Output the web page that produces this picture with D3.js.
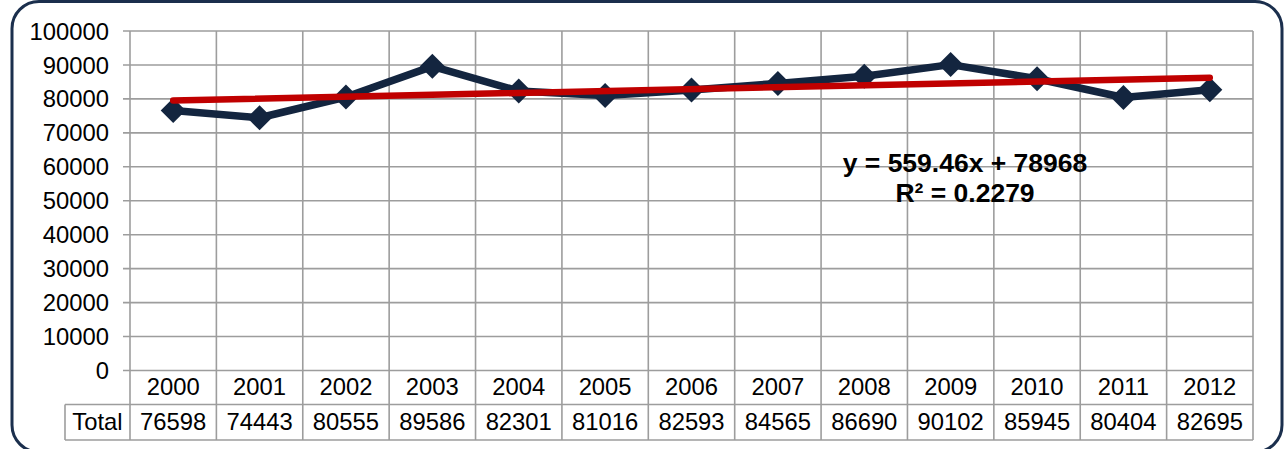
<!DOCTYPE html>
<html><head><meta charset="utf-8">
<script src="https://cdn.jsdelivr.net/npm/d3@7"></script>
<style>html,body{margin:0;padding:0;background:#fff;overflow:hidden}</style>
</head><body>
<svg id="c" width="1288" height="449"></svg>
<script>
const years = ["2000","2001","2002","2003","2004","2005","2006","2007","2008","2009","2010","2011","2012"];
const totals = [76598,74443,80555,89586,82301,81016,82593,84565,86690,90102,85945,80404,82695];
const yTicks = [0,10000,20000,30000,40000,50000,60000,70000,80000,90000,100000];
const trendSlope = 559.46, trendIntercept = 78968;
const eqLines = ["y = 559.46x + 78968", "R² = 0.2279"];
const rowLabel = "Total";

(function(){
const svg = d3.select("#c");
const font = "'Liberation Sans', Arial, sans-serif";
const pLeft = 130, pRight = 1253, pTop = 31, pBottom = 370.5;
const rowH = 34, tableBottom = 440, totalLeft = 65;
const fs = 23.8;

svg.append("rect").attr("x",12).attr("y",1.5).attr("width",1270).attr("height",450.5)
  .attr("rx",27).attr("fill","none").attr("stroke","#1b2f4d").attr("stroke-width",3);

const x = d3.scaleBand().domain(years).range([pLeft,pRight]);
const y = d3.scaleLinear().domain([0,100000]).range([pBottom,pTop]);
const grid = "#9d9d9d";

svg.append("g").selectAll("line").data(yTicks).join("line")
  .attr("x1",pLeft-7).attr("x2",pRight).attr("y1",d=>y(d)).attr("y2",d=>y(d))
  .attr("stroke",grid).attr("stroke-width",1.6);
const vx = [pLeft, ...years.map(d=>x(d)+x.bandwidth())];
svg.append("g").selectAll("line").data(vx).join("line")
  .attr("x1",d=>d).attr("x2",d=>d).attr("y1",pTop).attr("y2",tableBottom)
  .attr("stroke",grid).attr("stroke-width",1.6);
svg.append("line").attr("x1",totalLeft).attr("x2",pRight).attr("y1",pBottom+rowH).attr("y2",pBottom+rowH).attr("stroke",grid).attr("stroke-width",1.6);
svg.append("line").attr("x1",totalLeft).attr("x2",pRight).attr("y1",tableBottom).attr("y2",tableBottom).attr("stroke",grid).attr("stroke-width",1.6);
svg.append("line").attr("x1",totalLeft).attr("x2",totalLeft).attr("y1",pBottom+rowH).attr("y2",tableBottom).attr("stroke",grid).attr("stroke-width",1.6);

svg.append("g").selectAll("text").data(yTicks).join("text")
  .attr("x",109).attr("y",d=>y(d)).attr("dy","0.36em").attr("text-anchor","end")
  .attr("font-family",font).attr("font-size",fs).attr("fill","#000").text(d=>d);
svg.append("g").selectAll("text").data(years).join("text")
  .attr("x",d=>x(d)+x.bandwidth()/2).attr("y",395).attr("text-anchor","middle")
  .attr("font-family",font).attr("font-size",fs).attr("fill","#000").text(d=>d);
svg.append("text").attr("x",(totalLeft+pLeft)/2).attr("y",429.5).attr("text-anchor","middle")
  .attr("font-family",font).attr("font-size",fs).text(rowLabel);
svg.append("g").selectAll("text").data(totals).join("text")
  .attr("x",(d,i)=>x(years[i])+x.bandwidth()/2).attr("y",429.5).attr("text-anchor","middle")
  .attr("font-family",font).attr("font-size",fs).attr("fill","#000").text(d=>d);

const cx = d=>x(d)+x.bandwidth()/2;
const navy = "#13253f";
svg.append("path").datum(totals)
  .attr("d",d3.line().x((d,i)=>cx(years[i])).y(d=>y(d)))
  .attr("fill","none").attr("stroke",navy).attr("stroke-width",7.5).attr("stroke-linejoin","round");
const s = 12.5;
svg.append("g").selectAll("path").data(totals).join("path")
  .attr("transform",(d,i)=>`translate(${cx(years[i])},${y(d)})`)
  .attr("d",`M0,${-s}L${s},0L0,${s}L${-s},0Z`).attr("fill",navy);

const tr = [1, years.length].map(k=>({k, v: trendSlope*k+trendIntercept}));
svg.append("path").datum(tr)
  .attr("d",d3.line().x(d=>cx(years[d.k-1])).y(d=>y(d.v)))
  .attr("fill","none").attr("stroke","#c00000").attr("stroke-width",6.5).attr("stroke-linecap","round");

svg.append("g").selectAll("text").data(eqLines).join("text")
  .attr("x",965).attr("y",(d,i)=>172+i*29.5).attr("text-anchor","middle")
  .attr("font-family",font).attr("font-weight","bold").attr("font-size",26.5).attr("fill","#000").text(d=>d);
})();
</script>
</body></html>
